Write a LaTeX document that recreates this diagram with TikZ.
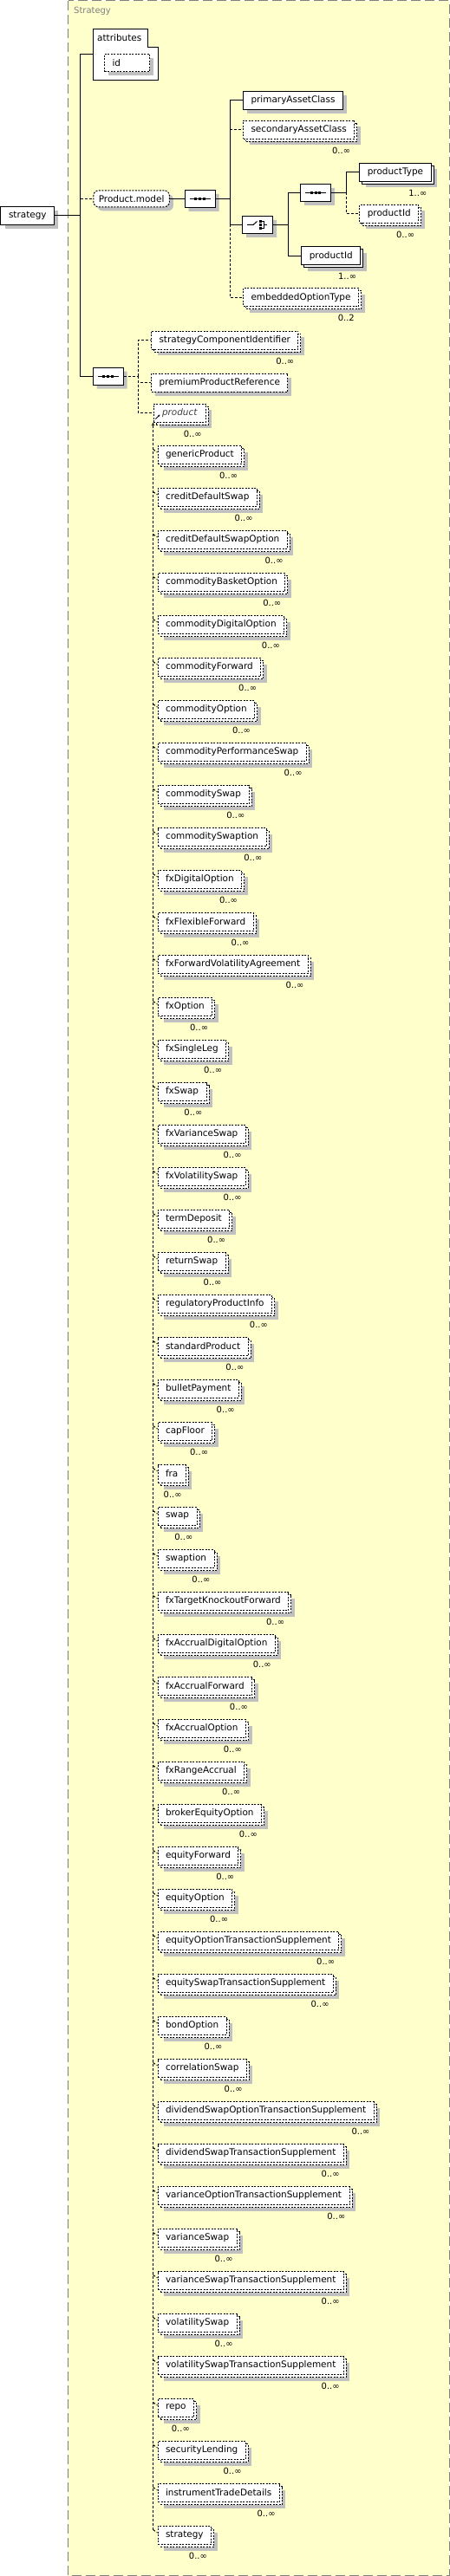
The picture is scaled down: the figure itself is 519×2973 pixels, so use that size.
\documentclass[tikz,border=0pt]{standalone}
\usepackage{fontspec}
\setmainfont{DejaVu Sans}[ItalicFont={DejaVu Sans Oblique}]
\usetikzlibrary{calc, shadows, shapes.misc, arrows.meta}
\definecolor{paneyellow}{HTML}{FFFFCC}
\definecolor{panegray}{HTML}{808080}
\definecolor{shadowgray}{HTML}{C0C0C0}
\tikzset{
  elem/.style={draw, fill=white, line width=1bp, anchor=west, inner xsep=9bp, inner ysep=0pt,
    minimum height=21bp, font=\fontsize{10.5}{12}\selectfont},
  opt/.style={dash pattern=on 2bp off 1.5bp},
  soloel/.style={drop shadow={shadow xshift=4.5bp, shadow yshift=-4.5bp, fill=shadowgray, opacity=1}},
  stackel/.style={drop shadow={shadow xshift=7bp, shadow yshift=-7bp, fill=shadowgray, opacity=1},
    copy shadow={shadow xshift=3bp, shadow yshift=-3bp, draw, fill=white}},
  occ/.style={anchor=north east, inner sep=0pt, font=\fontsize{10}{12}\selectfont},
  comp/.style={chamfered rectangle, chamfered rectangle xsep=4bp, chamfered rectangle ysep=4bp,
    draw, fill=white, line width=1bp, minimum width=35bp, minimum height=20bp, inner sep=0pt, soloel},
  link/.style={line width=1bp},
  optlink/.style={line width=1bp, dash pattern=on 3bp off 2bp},
  seqicon/.pic={
    \draw[line width=1bp] (-12,0) -- (12,0);
    \foreach \dx in {-4.7,0,4.7} \fill (\dx-1.5,-1.5) rectangle (\dx+1.5,1.5);
  },
  choiceicon/.pic={
    \draw[line width=1bp] (-12,0) -- (-4.7,0) -- (-0.5,-3.8);
    \foreach \dy in {-4,0,4} \fill (2.3,\dy-1.2) rectangle (4.7,\dy+1.2);
    \draw[line width=1bp] (4.7,-4) -- (7.3,-4) -- (7.3,4) -- (4.7,4) (7.3,0) -- (11.3,0);
  }
}

\begin{document}
\begin{tikzpicture}[x=1bp, y=-1bp]
  \useasboundingbox (0,0) rectangle (519,2973);
  % the Strategy pane
  \draw[fill=paneyellow, draw=panegray, line width=1bp, dash pattern=on 11bp off 5bp]
    (78.5,0.5) rectangle (518,2972.5);
  \node[anchor=west, inner sep=0pt, text=panegray, font=\fontsize{10}{12}\selectfont] (title) at (85,13.3) {Strategy};

  % root and attributes
  \node[elem, soloel] (root) at (0.5,248.8) {strategy};
  \draw[link, fill=white] (107,33) -- (170,33) -- (170,54) -- (182,54) -- (182,92) -- (107,92) -- cycle;
  \node[anchor=west, inner sep=0pt, font=\fontsize{10.5}{12}\selectfont] (attr) at (112,43.5) {attributes};
  \coordinate (attrin) at (107,62);
  \node[elem, opt, soloel, minimum height=20.5bp] (id) at (120,72.5) {\makebox[34bp][l]{id}};

  % Product.model group
  \node[elem, opt, soloel, rounded corners=6bp, inner xsep=6bp, minimum height=19bp] (pm) at (107.3,229.3) {Product.model};
  \node[comp] (seq1) at (230.5,229.3) {};
  \pic at (seq1) {seqicon};
  \node[elem, soloel] (pac) at (280,115.5) {primaryAssetClass};
  \node[elem, opt, stackel] (sac) at (280,149.5) {secondaryAssetClass};
  \node[comp] (ch) at (297,259.3) {};
  \pic at (ch) {choiceicon};
  \node[elem, opt, stackel] (eot) at (280,343.3) {embeddedOptionType};
  \node[comp] (seq2) at (364.2,222.3) {};
  \pic at (seq2) {seqicon};
  \node[elem, stackel] (ptype) at (414.3,198.7) {productType};
  \node[elem, opt, stackel] (pid1) at (414.3,246.7) {productId};
  \node[elem, stackel] (pid2) at (347.3,295.3) {productId};

  \node[occ] at ($(sac.south east)+(-5,9)$) {0..∞};
  \node[occ] at ($(eot.south east)+(-5,9)$) {0..2};
  \node[occ] at ($(ptype.south east)+(-5,9)$) {1..∞};
  \node[occ] at ($(pid1.south east)+(-5,9)$) {0..∞};
  \node[occ] at ($(pid2.south east)+(-5,9)$) {1..∞};

  % strategy components
  \node[comp] (seq3) at (124.5,434) {};
  \pic at (seq3) {seqicon};
  \node[elem, opt, stackel] (sci) at (174,392.5) {strategyComponentIdentifier};
  \node[elem, opt, soloel] (ppr) at (174,441.5) {premiumProductReference};
  \node[elem, opt, stackel, inner xsep=10bp, text=black!75, font=\fontsize{10.5}{12}\selectfont\itshape] (prod) at (176.5,476.5) {product};
  \draw[line width=0.8bp, -{Stealth[length=2.5bp, width=2.5bp]}] ($(prod.south west)+(3,-4)$) -- ++(5,-5);
  \node[occ] at ($(sci.south east)+(-5,9)$) {0..∞};
  \node[occ] at ($(prod.south east)+(-5,9)$) {0..∞};

  % substitution group of product
  \foreach \nm [count=\i from 0] in {genericProduct, creditDefaultSwap, creditDefaultSwapOption,
      commodityBasketOption, commodityDigitalOption, commodityForward, commodityOption,
      commodityPerformanceSwap, commoditySwap, commoditySwaption, fxDigitalOption,
      fxFlexibleForward, fxForwardVolatilityAgreement, fxOption, fxSingleLeg, fxSwap,
      fxVarianceSwap, fxVolatilitySwap, termDeposit, returnSwap, regulatoryProductInfo,
      standardProduct, bulletPayment, capFloor, fra, swap, swaption, fxTargetKnockoutForward,
      fxAccrualDigitalOption, fxAccrualForward, fxAccrualOption, fxRangeAccrual,
      brokerEquityOption, equityForward, equityOption, equityOptionTransactionSupplement,
      equitySwapTransactionSupplement, bondOption, correlationSwap,
      dividendSwapOptionTransactionSupplement, dividendSwapTransactionSupplement,
      varianceOptionTransactionSupplement, varianceSwap, varianceSwapTransactionSupplement,
      volatilitySwap, volatilitySwapTransactionSupplement, repo, securityLending,
      instrumentTradeDetails, strategy}{
    \node[elem, opt, stackel] (m\i) at (181.5,525+49*\i) {\nm};
    \node[occ] at ($(m\i.south east)+(-5,9)$) {0..∞};
    \draw[optlink] ($(m\i.west)+(-5,-6.5)$) -- ($(m\i.west)+(0,-3)$);
  }
  \draw[optlink, -{Stealth[length=4bp, width=3.5bp]}] ($(m49.west)+(-5,-6.5)$) -- (prod.south west);

  % connectors
  \coordinate (br0) at (92,248.8);
  \draw[link] (root.east) -- (br0);
  \draw[link] (br0) |- (attrin);
  \draw[optlink] (br0) |- (pm.west);
  \draw[link] (br0) |- (seq3.west);
  \draw[link] (pm.east) -- (seq1.west);
  \coordinate (br1) at (265,229.3);
  \draw[link] (seq1.east) -- (br1);
  \draw[link] (br1) |- (pac.west);
  \draw[optlink] (br1) |- (sac.west);
  \draw[link] (br1) |- (ch.west);
  \draw[optlink] (br1) |- (eot.west);
  \coordinate (br2) at (332,259.3);
  \draw[link] (ch.east) -- (br2);
  \draw[link] (br2) |- (seq2.west);
  \draw[link] (br2) |- (pid2.west);
  \coordinate (br3) at (399,222.3);
  \draw[link] (seq2.east) -- (br3);
  \draw[link] (br3) |- (ptype.west);
  \draw[optlink] (br3) |- (pid1.west);
  \coordinate (br4) at (159,434);
  \draw[optlink] (seq3.east) -- (br4);
  \draw[optlink] (br4) |- (sci.west);
  \draw[optlink] (br4) |- (ppr.west);
  \draw[optlink] (br4) |- (prod.west);
\end{tikzpicture}
\end{document}
